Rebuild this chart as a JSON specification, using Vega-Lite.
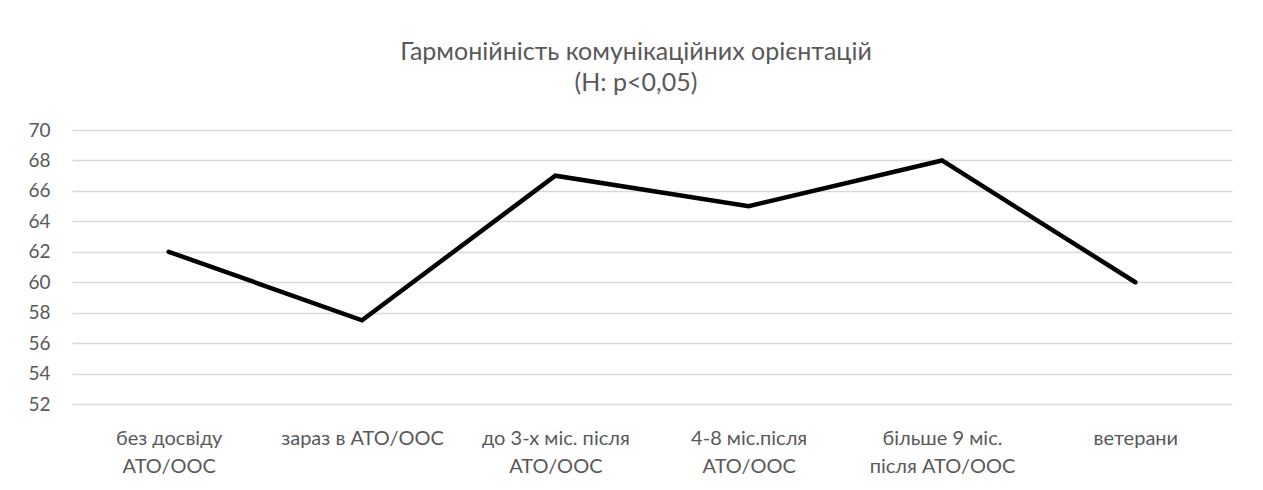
{
  "$schema": "https://vega.github.io/schema/vega-lite/v6.json",
  "width": 1160,
  "height": 274,
  "autosize": {"type": "none"},
  "padding": {"left": 72, "top": 130, "right": 31, "bottom": 86},
  "background": "white",
  "config": {
    "font": "Lato",
    "view": {"stroke": null}
  },
  "title": {
    "text": ["Гармонійність комунікаційних орієнтацій", "(Н: p<0,05)"],
    "anchor": "middle",
    "frame": "group",
    "dx": -16,
    "fontSize": 25,
    "fontWeight": "normal",
    "color": "#595959",
    "lineHeight": 31,
    "offset": 25
  },
  "data": {
    "values": [
      {"group": "без досвіду АТО/ООС", "value": 62},
      {"group": "зараз в АТО/ООС", "value": 57.5},
      {"group": "до 3-х міс. після АТО/ООС", "value": 67},
      {"group": "4-8 міс.після АТО/ООС", "value": 65},
      {"group": "більше 9 міс. після АТО/ООС", "value": 68},
      {"group": "ветерани", "value": 60}
    ]
  },
  "mark": {"type": "line", "color": "#000000", "strokeWidth": 4.5, "strokeJoin": "miter", "strokeCap": "round"},
  "encoding": {
    "x": {
      "field": "group",
      "type": "nominal",
      "sort": null,
      "scale": {"type": "point", "padding": 0.5},
      "axis": {
        "title": null,
        "labelAngle": 0,
        "domain": false,
        "ticks": false,
        "tickSize": 0,
        "labelPadding": 24,
        "labelFontSize": 20,
        "labelColor": "#595959",
        "labelLineHeight": 28,
        "labelBaseline": "top",
        "labelLimit": 300,
        "labelExpr": "datum.label == 'більше 9 міс. після АТО/ООС' ? ['більше 9 міс.', 'після АТО/ООС'] : (datum.label == 'зараз в АТО/ООС' || datum.label == 'ветерани') ? datum.label : [replace(datum.label, ' АТО/ООС', ''), 'АТО/ООС']"
      }
    },
    "y": {
      "field": "value",
      "type": "quantitative",
      "scale": {"domain": [52, 70], "nice": false, "zero": false},
      "axis": {
        "title": null,
        "values": [52, 54, 56, 58, 60, 62, 64, 66, 68, 70],
        "domain": false,
        "ticks": false,
        "tickSize": 0,
        "labelPadding": 22,
        "labelFontSize": 19,
        "labelColor": "#595959",
        "gridColor": "#d9d9d9",
        "gridWidth": 1.3
      }
    }
  }
}
